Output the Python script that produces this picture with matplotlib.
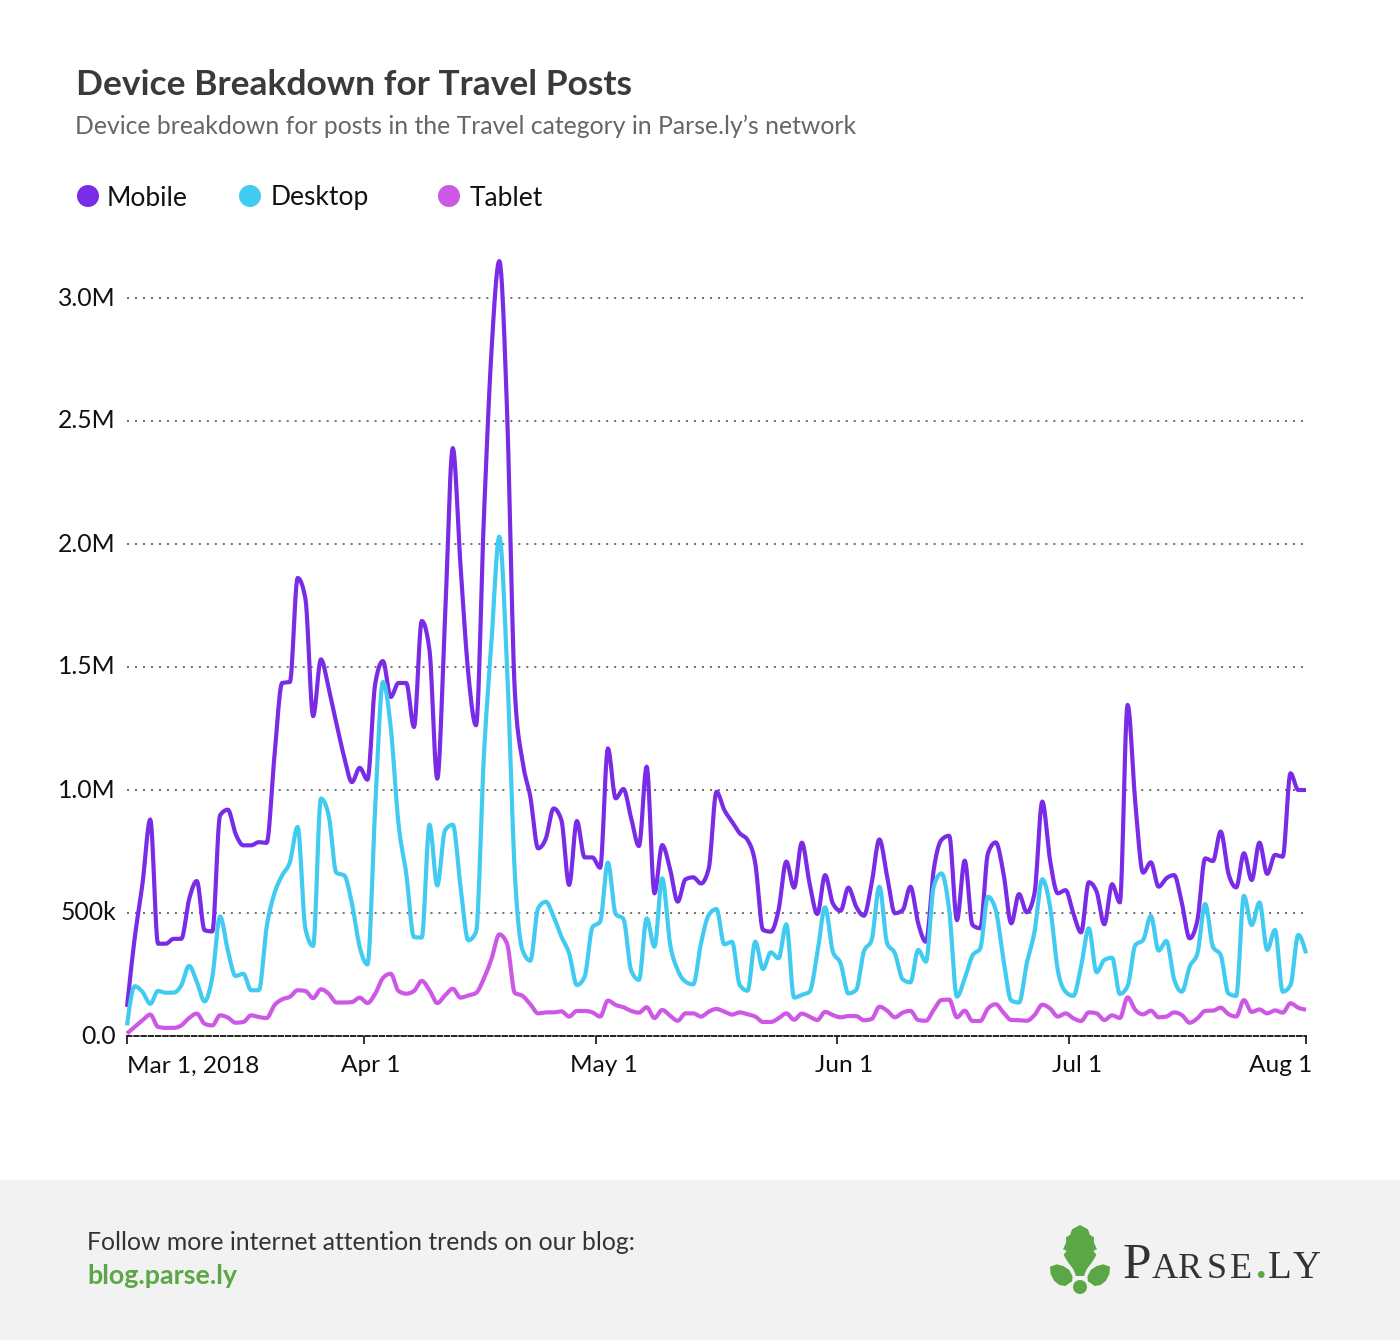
import numpy as np
import pandas as pd
import matplotlib
matplotlib.use('Agg')
import matplotlib.pyplot as plt
from matplotlib.patches import Circle, Polygon, Rectangle
from matplotlib.transforms import ScaledTranslation

#%% Data (daily views, thousands)
start_date = '2018-03-01'
tick_dates = ['2018-03-01', '2018-04-01', '2018-05-01', '2018-06-01', '2018-07-01', '2018-08-01']
tick_labels = ['Mar 1, 2018', 'Apr 1', 'May 1', 'Jun 1', 'Jul 1', 'Aug 1']
y_ticks = [0, 500, 1000, 1500, 2000, 2500, 3000]
y_labels = ['0.0', '500k', '1.0M', '1.5M', '2.0M', '2.5M', '3.0M']

mobile = [118, 400, 620, 880, 375, 375, 395, 395, 555, 630,
          430, 425, 897, 920, 822, 775, 775, 788, 785, 1134,
          1435, 1439, 1862, 1778, 1300, 1531, 1412, 1270, 1134, 1032,
          1090, 1042, 1432, 1524, 1378, 1435, 1435, 1256, 1687, 1568,
          1046, 1700, 2390, 1910, 1473, 1263, 2100, 2790, 3150, 2540,
          1400, 1114, 972, 763, 803, 925, 878, 614, 874, 726,
          726, 684, 1169, 966, 1004, 885, 772, 1095, 580, 776,
          681, 546, 637, 645, 620, 681, 993, 919, 871, 824,
          797, 702, 431, 424, 512, 709, 603, 786, 620, 496,
          654, 539, 509, 603, 526, 489, 620, 799, 648, 499,
          512, 607, 458, 383, 675, 797, 814, 471, 713, 451,
          438, 743, 787, 661, 458, 577, 503, 580, 953, 715,
          580, 593, 499, 421, 625, 587, 454, 617, 543, 1346,
          946, 664, 706, 607, 641, 654, 539, 397, 471, 722,
          711, 831, 661, 604, 743, 634, 786, 659, 736, 729,
          1068, 1000, 1000]

desktop = [43, 202, 179, 131, 183, 176, 176, 206, 285, 220,
           141, 240, 486, 348, 244, 253, 186, 186, 443, 579,
           653, 707, 850, 436, 366, 965, 897, 663, 653, 538,
           362, 291, 930, 1439, 1256, 863, 660, 402, 400, 859,
           612, 836, 859, 606, 389, 423, 1134, 1608, 2030, 1500,
           660, 348, 306, 519, 546, 485, 404, 336, 207, 241,
           442, 465, 705, 496, 476, 266, 228, 478, 363, 641,
           377, 268, 221, 210, 377, 492, 516, 373, 383, 207,
           184, 383, 272, 340, 316, 454, 156, 167, 180, 336,
           523, 343, 295, 173, 187, 343, 390, 607, 377, 336,
           230, 218, 350, 302, 607, 661, 512, 160, 234, 327,
           356, 566, 512, 309, 144, 136, 295, 424, 637, 526,
           268, 180, 163, 282, 438, 259, 309, 318, 171, 203,
           370, 390, 488, 347, 386, 230, 180, 282, 336, 537,
           363, 329, 173, 163, 570, 451, 543, 350, 431, 180,
           207, 411, 336]

tablet = [10, 37, 64, 87, 37, 33, 33, 43, 73, 91,
          50, 43, 84, 75, 54, 57, 84, 77, 73, 125,
          149, 159, 186, 183, 154, 190, 172, 136, 136, 138,
          156, 134, 172, 236, 253, 183, 172, 183, 224, 186,
          134, 165, 192, 156, 165, 175, 233, 314, 413, 375,
          175, 163, 129, 92, 96, 96, 100, 79, 102, 102,
          96, 79, 144, 126, 117, 102, 95, 117, 73, 106,
          83, 62, 92, 92, 79, 99, 110, 99, 87, 96,
          88, 79, 57, 57, 72, 92, 66, 91, 79, 65,
          98, 85, 76, 81, 81, 64, 69, 119, 103, 76,
          95, 102, 65, 62, 106, 146, 148, 76, 103, 61,
          61, 112, 129, 95, 65, 64, 62, 85, 127, 112,
          79, 92, 72, 61, 96, 92, 65, 84, 73, 157,
          106, 88, 103, 76, 79, 96, 85, 54, 72, 102,
          103, 115, 89, 79, 146, 98, 108, 92, 104, 95,
          133, 115, 107]

series_names = ['Mobile', 'Desktop', 'Tablet']
series_colors = ['#7a2be6', '#41cbf0', '#cd58e6']
TEXT_FONT = 'Lato'

#%% Helpers
def monotone_curve(y, steps=12):
    "monotone cubic through unit spaced points, same idea as d3 curveMonotoneX"
    y = np.asarray(y, dtype=float)
    d = np.diff(y)
    m = np.zeros_like(y)
    s0, s1 = d[:-1], d[1:]
    m[1:-1] = (np.sign(s0) + np.sign(s1)) * np.minimum.reduce([np.abs(s0), np.abs(s1), 0.25 * np.abs(s0 + s1)])
    m[0] = (3 * d[0] - m[1]) / 2
    m[-1] = (3 * d[-1] - m[-2]) / 2
    t = np.linspace(0, 1, steps, endpoint=False)[None, :]
    y0, y1 = y[:-1, None], y[1:, None]
    m0, m1 = m[:-1, None], m[1:, None]
    h = (2*t**3 - 3*t**2 + 1)*y0 + (t**3 - 2*t**2 + t)*m0 + (-2*t**3 + 3*t**2)*y1 + (t**3 - t**2)*m1
    xs = (np.arange(len(y) - 1)[:, None] + t).ravel()
    return np.append(xs, len(y) - 1), np.append(h.ravel(), y[-1])

def draw_logo(ax):
    "Parse.ly leaf and wordmark, in pixel coords of the overlay"
    green = '#5ba745'
    to_px = lambda pts: [(1030 + a / 3, 1210 + b / 3) for a, b in pts]
    top = [(150,45),(174,58),(180,75),(192,82),(192,98),(201,118),(190,122),(199,135),(187,155),
           (170,178),(162,198),(138,198),(130,178),(113,155),(101,135),(110,122),(99,118),
           (108,98),(108,82),(120,75),(126,58)]
    left = [(60,170),(80,163),(100,168),(118,180),(128,200),(126,214),(106,228),(88,225),(72,212),(62,192)]
    right = [(300 - a, b) for a, b in left]
    for leaf in (top, left, right):
        ax.add_patch(Polygon(to_px(leaf), closed=True, fc=green, ec='none'))
    ax.add_patch(Circle((1080, 1287), 7, fc=green, ec='none'))
    base = 1278
    dark = '#333333'
    ax.text(1123, base, 'P', family='Liberation Serif', fontsize=37, color=dark, va='baseline')
    for ch, xp in zip('ARSE', [1152, 1178, 1207, 1230]):
        ax.text(xp, base, ch, family='Liberation Serif', fontsize=26, color=dark, va='baseline')
    ax.text(1255, base, '.', family='Liberation Serif', fontsize=30, fontweight='bold', color=green, va='baseline')
    for ch, xp in zip('LY', [1268, 1293]):
        ax.text(xp, base, ch, family='Liberation Serif', fontsize=28, color=dark, va='baseline')

#%% Figure
plt.rcParams['lines.scale_dashes'] = False
plt.rcParams['font.family'] = [TEXT_FONT, 'DejaVu Sans']

W, H = 1400, 1340
fig = plt.figure(figsize=(W / 100, H / 100), dpi=100, facecolor='white')

# overlay in pixel coords for footer, legend dots and logo
bg = fig.add_axes([0, 0, 1, 1], zorder=0)
bg.set_xlim(0, W)
bg.set_ylim(H, 0)
bg.axis('off')
bg.add_patch(Rectangle((0, 1180), W, 160, fc='#f2f2f2', ec='none'))

ax = fig.add_axes([127 / W, (H - 1036) / H, (1306 - 127) / W, (1036 - 240) / H], zorder=1)
ax.patch.set_alpha(0)

days = np.arange(len(mobile))
for values, color in zip([mobile, desktop, tablet], series_colors):
    xs, ys = monotone_curve(values)
    ax.plot(xs, ys, color=color, lw=3.0, solid_joinstyle='round', solid_capstyle='butt', clip_on=False, zorder=3)

tick_pos = np.clip((pd.to_datetime(tick_dates) - pd.Timestamp(start_date)).days - 0.5, 0, days[-1])
ax.set_xlim(0, days[-1])
ax.set_ylim(0, (1036 - 240) * 500 / 123)
ax.set_xticks(tick_pos)
ax.set_xticklabels(tick_labels, fontsize=17.6, color='#111111')
ax.set_yticks(y_ticks)
ax.set_yticklabels(y_labels, fontsize=17.8, color='#111111')
ax.tick_params(axis='x', length=6, width=1.3, color='#222222', pad=8)
ax.tick_params(axis='y', length=0, pad=8)
ax.grid(axis='y', color='#666666', lw=1.3, linestyle=(0, (1.45, 4.3)), zorder=1)
for side in ['top', 'right', 'left']:
    ax.spines[side].set_visible(False)
ax.spines['bottom'].set_linestyle((0, (3.2, 2.0)))
ax.spines['bottom'].set_linewidth(1.4)
ax.spines['bottom'].set_color('#222222')

# axis labels sit a bit right of their ticks, end ones are kept inside
shift = ScaledTranslation(7.5 / 100, 0, fig.dpi_scale_trans)
end_shift = ScaledTranslation(6 / 100, 0, fig.dpi_scale_trans)
labels = ax.get_xticklabels()
for lab in labels[1:-1]:
    lab.set_transform(lab.get_transform() + shift)
labels[0].set_ha('left')
labels[-1].set_ha('right')
labels[-1].set_transform(labels[-1].get_transform() + end_shift)
for lab in ax.get_yticklabels():
    lab.set_transform(lab.get_transform() + ScaledTranslation(0, 2 / 100, fig.dpi_scale_trans))

# titles
bg.text(76, 85, 'Device Breakdown for Travel Posts', fontsize=25.5, fontweight='bold', color='#3a3a3a', va='center')
bg.text(75, 126, 'Device breakdown for posts in the Travel category in Parse.ly\u2019s network',
        fontsize=17.8, color='#666666', va='center')

# legend
for name, color, cx, tx in zip(series_names, series_colors, [88, 250, 449], [107, 271, 470]):
    bg.add_patch(Circle((cx, 196), 11, fc=color, ec='none'))
    bg.text(tx, 198, name, fontsize=19, color='#111111', va='center')

# footer
bg.text(87, 1242, 'Follow more internet attention trends on our blog:', fontsize=17.8, color='#333333', va='center')
bg.text(87, 1276, 'blog.parse.ly', fontsize=19.4, fontweight='bold', color='#5ba745', va='center')
draw_logo(bg)

fig.savefig('out.png', dpi=100)
